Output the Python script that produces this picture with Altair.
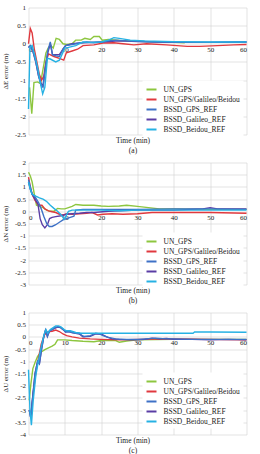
import altair as alt
import pandas as pd

NAMES = ["UN_GPS", "UN_GPS/Galileo/Beidou", "BSSD_GPS_REF", "BSSD_Galileo_REF", "BSSD_Beidou_REF"]
COLORS = ["#8DC63F", "#E0393E", "#3E71C6", "#5A3DA5", "#26B1E3"]
DRAW_ORDER = ["UN_GPS", "UN_GPS/Galileo/Beidou", "BSSD_Galileo_REF", "BSSD_GPS_REF", "BSSD_Beidou_REF"]

# ---------------- Panel (a): east error ----------------
A_GREEN_T = [0.3, 0.9, 1.5, 2.5, 3.3, 4.0, 4.8, 5.5, 6.2, 6.8, 7.6, 8.5, 9.5, 10.5, 12.0, 13.0, 14.5, 15.5, 17.0, 18.0, 19.5, 20.3, 22, 25, 28, 32, 36, 40, 43]
A_GREEN_V = [-1.2, -1.93, -1.07, -1.05, -1.1, -0.7, -0.25, -0.1, -0.05, -0.12, 0.15, 0.12, 0.0, -0.02, 0.0, 0.1, 0.1, 0.15, 0.12, 0.2, 0.2, 0.1, 0.12, 0.09, 0.08, 0.06, 0.05, 0.04, 0.03]
A_RED_T = [0, 0.5, 1.0, 1.6, 2.3, 3.0, 3.6, 4.2, 4.8, 5.5, 7.0, 8.5, 9.7, 10.4, 12.0, 13.5, 15.0, 18.0, 20.5, 23.5, 26, 29, 32.5, 38, 43.7, 47, 52, 56.5, 60]
A_RED_V = [0.0, 0.42, 0.3, -0.15, -0.5, -0.85, -1.0, -0.9, -0.5, -0.28, -0.35, -0.4, -0.45, -0.25, -0.2, -0.15, -0.05, -0.03, 0.02, 0.03, 0.0, -0.03, 0.0, -0.03, -0.07, -0.07, -0.05, -0.03, -0.02]
A_BLUE_T = [0, 0.5, 1.2, 2.0, 2.8, 3.5, 4.0, 4.6, 5.3, 6.0, 6.6, 7.5, 8.5, 9.5, 10.2, 12, 14, 16, 18, 20, 22, 24, 27, 30, 35, 40, 50, 60]
A_BLUE_V = [-0.1, -0.05, -0.2, -0.5, -0.9, -1.15, -1.2, -0.7, -0.2, 0.05, -0.3, -0.33, -0.35, -0.15, -0.05, -0.02, 0.02, 0.05, 0.03, 0.05, 0.08, 0.1, 0.08, 0.07, 0.05, 0.04, 0.04, 0.05]
A_PURPLE_T = [0, 0.5, 1.2, 2.0, 2.8, 3.5, 4.0, 4.6, 5.3, 6.0, 6.6, 7.5, 8.5, 9.5, 10.2, 12, 15, 20, 25, 30, 40, 50, 60]
A_PURPLE_V = [-0.1, -0.05, -0.2, -0.5, -0.9, -1.1, -1.15, -0.7, -0.25, 0.0, -0.3, -0.3, -0.3, -0.15, -0.05, 0.0, 0.03, 0.05, 0.08, 0.06, 0.04, 0.04, 0.05]
A_CYAN_T = [0, 0.4, 1.0, 1.8, 2.6, 3.3, 3.9, 4.5, 5.2, 6.0, 7.5, 8.5, 9.2, 10.0, 11.0, 13.0, 15.0, 17.0, 20.0, 22.0, 23.5, 25.0, 28.0, 32, 40, 50, 60]
A_CYAN_V = [-1.8, -0.1, -0.05, -0.35, -0.7, -1.1, -1.38, -1.2, -0.4, -0.42, -0.5, -0.45, -0.3, -0.12, -0.1, -0.05, 0.05, 0.04, 0.05, 0.1, 0.17, 0.15, 0.1, 0.08, 0.06, 0.05, 0.05]

# ---------------- Panel (b): north error ----------------
B_GREEN_T = [0, 0.5, 1.0, 1.6, 2.2, 3.0, 4.0, 5.0, 6.0, 7.0, 8.0, 9.0, 10.0, 11.0, 12.0, 13.0, 15, 18, 20, 22, 25, 27, 30, 33, 36, 40, 50, 60]
B_GREEN_V = [1.6, 1.45, 1.2, 0.7, 0.25, 0.2, 0.15, 0.05, 0.0, 0.0, 0.12, 0.1, 0.1, 0.15, 0.2, 0.28, 0.25, 0.25, 0.22, 0.2, 0.22, 0.25, 0.2, 0.15, 0.1, 0.1, 0.08, 0.08]
B_RED_T = [0, 0.5, 1.0, 1.8, 2.5, 3.0, 3.7, 4.5, 5.5, 6.5, 7.5, 8.5, 9.5, 10.5, 12, 14, 16, 17.5, 19, 20.5, 23, 26, 30, 34, 40, 50, 60]
B_RED_V = [1.4, 1.0, 0.7, 0.45, 0.3, 0.25, 0.25, 0.1, 0.02, -0.02, -0.05, -0.12, -0.15, -0.1, -0.12, -0.1, -0.08, -0.05, -0.15, -0.12, -0.1, -0.12, -0.1, -0.05, -0.05, -0.05, -0.08]
B_BLUE_T = [0, 0.5, 1.0, 2.0, 2.8, 3.5, 4.2, 5.0, 5.7, 6.5, 7.5, 8.5, 9.5, 10.5, 11.5, 12.5, 13.0, 15, 20, 30, 40, 50, 60]
B_BLUE_V = [1.3, 1.0, 0.7, 0.55, 0.35, 0.1, -0.2, -0.5, -0.62, -0.62, -0.55, -0.45, -0.35, -0.3, -0.25, -0.2, 0.05, 0.08, 0.08, 0.08, 0.1, 0.1, 0.08]
B_PURPLE_T = [0, 0.5, 1.0, 2.0, 2.6, 3.2, 3.8, 4.5, 5.2, 5.8, 6.5, 7.5, 9.0, 10.5, 12, 14, 16, 18, 22, 30, 40, 48, 50, 52, 60]
B_PURPLE_V = [1.2, 0.9, 0.7, 0.45, 0.3, -0.3, -0.55, -0.68, -0.55, -0.3, -0.25, -0.22, -0.18, -0.12, -0.1, -0.08, -0.05, -0.05, 0.0, 0.05, 0.05, 0.1, 0.15, 0.1, 0.1]
B_CYAN_T = [0, 0.5, 1.0, 2.0, 3.0, 4.0, 5.0, 6.0, 7.0, 8.0, 9.0, 9.8, 10.3, 11.0, 12, 15, 20, 25, 30, 40, 50, 60]
B_CYAN_V = [1.2, 0.9, 0.7, 0.62, 0.55, 0.5, 0.4, 0.25, 0.12, 0.0, -0.15, -0.32, -0.2, 0.0, 0.05, 0.05, 0.05, 0.02, 0.05, 0.05, 0.05, 0.05]

# ---------------- Panel (c): up error ----------------
C_GREEN_T = [0.2, 0.6, 1.2, 1.8, 2.5, 3.5, 4.5, 5.5, 6.5, 7.3, 8.0, 9.0, 10, 12, 15, 18, 20, 22, 24, 25, 27, 30, 40, 50, 60]
C_GREEN_V = [-2.6, -2.0, -1.3, -1.05, -0.8, -0.62, -0.52, -0.45, -0.38, -0.3, -0.12, -0.12, -0.12, -0.15, -0.18, -0.2, -0.15, -0.15, -0.15, -0.22, -0.17, -0.12, -0.1, -0.1, -0.1]
C_RED_T = [0.2, 0.7, 1.3, 2.0, 2.7, 3.5, 4.3, 5.0, 5.7, 6.5, 7.5, 8.5, 9.5, 10.5, 12, 14, 17, 20, 25, 30, 40, 50, 60]
C_RED_V = [-3.0, -3.2, -2.3, -1.5, -0.9, -0.3, 0.05, 0.2, 0.22, 0.23, 0.28, 0.22, 0.12, 0.05, 0.0, -0.05, -0.08, -0.1, -0.12, -0.1, -0.08, -0.1, -0.12]
C_BLUE_T = [0.2, 0.6, 1.2, 1.8, 2.5, 3.0, 3.6, 4.2, 4.7, 5.2, 5.8, 6.5, 7.2, 8.0, 8.8, 9.5, 10.2, 11, 12, 13, 14, 14.8, 15.3, 17, 18.5, 19.5, 20.5, 22, 24, 27, 30, 35, 38, 40, 45, 50, 55, 60]
C_BLUE_V = [-3.0, -3.3, -2.4, -1.5, -1.0, -1.1, -0.5, 0.0, 0.3, 0.02, 0.25, 0.3, 0.38, 0.42, 0.4, 0.32, 0.2, 0.22, 0.18, 0.15, 0.15, 0.05, 0.02, 0.05, 0.15, 0.12, 0.05, -0.02, -0.08, -0.1, -0.1, -0.05, -0.08, -0.08, -0.1, -0.1, -0.1, -0.1]
C_PURPLE_T = [0.2, 0.6, 1.2, 1.8, 2.5, 3.0, 3.6, 4.2, 4.7, 5.2, 5.8, 6.5, 7.2, 8.0, 8.8, 9.5, 10.2, 11, 12, 13, 14, 15, 17, 18.5, 20, 21.5, 23, 25, 28, 30, 32, 34, 36, 38, 40, 45, 50, 55, 60]
C_PURPLE_V = [-3.0, -3.3, -2.4, -1.5, -1.0, -1.1, -0.5, 0.0, 0.28, 0.02, 0.25, 0.3, 0.35, 0.4, 0.38, 0.3, 0.2, 0.22, 0.18, 0.15, 0.12, 0.0, 0.02, 0.12, 0.12, 0.0, -0.08, -0.1, -0.12, -0.12, -0.1, -0.05, -0.08, -0.06, -0.1, -0.1, -0.12, -0.1, -0.12]
C_CYAN_T = [0, 0.4, 0.8, 1.3, 2.0, 2.7, 3.5, 4.3, 4.8, 5.3, 6.0, 6.8, 7.5, 8.3, 9.0, 9.8, 10.5, 11.5, 13, 14.5, 16, 20, 30, 40, 45.3, 45.7, 50, 60]
C_CYAN_V = [-1.35, -3.0, -3.62, -2.6, -1.6, -1.0, -0.4, 0.1, 0.3, 0.15, 0.3, 0.38, 0.45, 0.45, 0.4, 0.3, 0.25, 0.25, 0.18, 0.15, 0.15, 0.15, 0.15, 0.15, 0.15, 0.2, 0.2, 0.19]

X_TICKS = [0, 10, 20, 30, 40, 50, 60]
FONT = "Liberation Serif"
GRID = "#d2d2d2"


def frame(series):
    rows = []
    for k, name in enumerate(DRAW_ORDER):
        ts, vs = series[name]
        for t, v in zip(ts, vs):
            rows.append({"t": t, "v": v, "series": name, "k": k})
    return pd.DataFrame(rows)


def panel(df, ydom, yticks, height, ytitle, cap, leg_y):
    zero_px = height * ydom[1] / (ydom[1] - ydom[0])
    off = height - zero_px
    return alt.Chart(df).mark_line(strokeWidth=1.4).encode(
        x=alt.X("t:Q", scale=alt.Scale(domain=[0, 60], nice=False, zero=False),
                axis=alt.Axis(values=X_TICKS, offset=-off, domain=False, ticks=False,
                              grid=True, gridColor=GRID, gridWidth=0.6,
                              labelFont=FONT, labelFontSize=7, labelColor="#222",
                              labelPadding=2, title=["Time (min)", cap],
                              titleFont=FONT, titleFontSize=7.5, titleFontWeight="normal",
                              titleColor="#222", titleLineHeight=10,
                              titleY=off + 2, titleX=104, titleBaseline="top")),
        y=alt.Y("v:Q", scale=alt.Scale(domain=ydom, nice=False, zero=False),
                axis=alt.Axis(values=yticks, labelExpr="'' + datum.value", domain=False,
                              ticks=False, grid=True, gridColor=GRID, gridWidth=0.6,
                              labelFont=FONT, labelFontSize=7, labelColor="#222",
                              labelPadding=3, title=ytitle, titleFont=FONT,
                              titleFontSize=7, titleFontWeight="normal", titleColor="#222",
                              titleX=-23, titleY=height / 2, titleBaseline="middle",
                              titleAngle=270)),
        color=alt.Color("series:N", scale=alt.Scale(domain=NAMES, range=COLORS),
                        legend=alt.Legend(orient="none", legendX=114, legendY=leg_y,
                                          title=None, symbolType="stroke",
                                          symbolStrokeWidth=2, symbolSize=100,
                                          labelFont=FONT, labelFontSize=7.5,
                                          labelColor="#222", labelOffset=6,
                                          rowPadding=0, padding=3, fillColor="white")),
        detail="k:O",
    ).properties(width=218, height=height)


pa = panel(frame({
    "UN_GPS": (A_GREEN_T, A_GREEN_V), "UN_GPS/Galileo/Beidou": (A_RED_T, A_RED_V),
    "BSSD_GPS_REF": (A_BLUE_T, A_BLUE_V), "BSSD_Galileo_REF": (A_PURPLE_T, A_PURPLE_V),
    "BSSD_Beidou_REF": (A_CYAN_T, A_CYAN_V)}),
    [-2.5, 1], [1, 0.5, 0, -0.5, -1, -1.5, -2, -2.5], 127, "\u0394E error (m)", "(a)", 73)
pb = panel(frame({
    "UN_GPS": (B_GREEN_T, B_GREEN_V), "UN_GPS/Galileo/Beidou": (B_RED_T, B_RED_V),
    "BSSD_GPS_REF": (B_BLUE_T, B_BLUE_V), "BSSD_Galileo_REF": (B_PURPLE_T, B_PURPLE_V),
    "BSSD_Beidou_REF": (B_CYAN_T, B_CYAN_V)}),
    [-3, 2], [2, 1.5, 1, 0.5, 0, -0.5, -1, -1.5, -2, -2.5, -3], 122, "\u0394N error (m)", "(b)", 70)
pc = panel(frame({
    "UN_GPS": (C_GREEN_T, C_GREEN_V), "UN_GPS/Galileo/Beidou": (C_RED_T, C_RED_V),
    "BSSD_GPS_REF": (C_BLUE_T, C_BLUE_V), "BSSD_Galileo_REF": (C_PURPLE_T, C_PURPLE_V),
    "BSSD_Beidou_REF": (C_CYAN_T, C_CYAN_V)}),
    [-4, 1], [1, 0.5, 0, -0.5, -1, -1.5, -2, -2.5, -3, -3.5, -4], 122, "\u0394U error (m)", "(c)", 60)

chart = alt.vconcat(pa, pb, pc, spacing=28, bounds="flush").resolve_legend(
    color="independent").resolve_scale(color="shared").properties(
    padding={"left": 1.5, "top": 3.5, "right": 0, "bottom": 0},
    background="white").configure_view(stroke=None)

chart.save("out.html", embed_options={"renderer": "svg", "actions": False})
